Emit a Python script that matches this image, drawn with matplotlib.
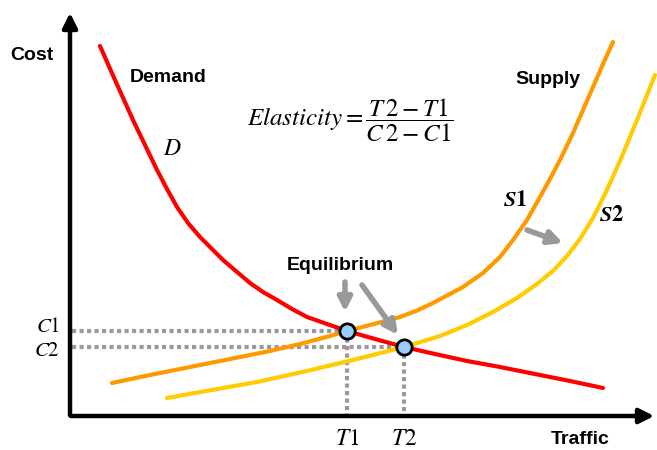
import numpy as np
import matplotlib
matplotlib.use('Agg')
import matplotlib.pyplot as plt

plt.rcParams['mathtext.fontset'] = 'stix'

# curve points (traffic, cost)
dem_t = [30, 45, 63, 75, 87, 97, 107, 118, 130, 142, 153, 167, 180, 193, 207, 222, 237,
         257, 277, 305, 334, 365, 397, 430, 465, 500, 533]
dem_c = [370, 336, 296, 271, 246, 227, 209, 193, 179, 167, 156, 144, 133, 124, 116, 107, 99,
         92, 85, 77, 69, 62, 55, 49, 42, 35, 28]
s1_t = [42, 80, 120, 160, 200, 230, 260, 277, 300, 330, 346, 363, 393, 413, 430, 443, 457,
        470, 480, 491, 503, 513, 523, 533, 543]
s1_c = [33, 41, 49, 57, 65, 72, 80, 85, 91, 99, 105, 113, 129, 143, 159, 176, 196,
        219, 237, 258, 283, 306, 329, 352, 374]
s2_t = [97, 153, 187, 237, 287, 334, 370, 397, 423, 447, 467, 484, 497, 510, 523, 535,
        550, 567, 585]
s2_c = [18, 28, 34, 45, 57, 69, 80, 91, 104, 118, 132, 146, 160, 177, 198, 222,
        255, 296, 341]

# equilibrium points
eq_t = [277, 334]
eq_c = [85, 69]
eq_t_lab = ['$T1$', '$T2$']
eq_c_lab = ['$C1$', '$C2$']

RED, ORANGE, YELLOW, GRAY = '#ff0000', '#ff9900', '#ffcc00', '#999999'
BOLD = dict(family='Liberation Sans', weight='bold', fontsize=14)

fig = plt.figure(figsize=(6.57, 4.5), dpi=100)
ax = fig.add_axes([0, 0, 1, 1])
ax.set_xlim(-70, 587)
ax.set_ylim(-34, 416)
ax.axis('off')

# axes with arrowheads
ax.annotate('', xy=(0, 406), xytext=(0, -2),
            arrowprops=dict(arrowstyle='-|>', lw=3.2, color='black', mutation_scale=22))
ax.annotate('', xy=(587, 0), xytext=(-2, 0),
            arrowprops=dict(arrowstyle='-|>', lw=3.2, color='black', mutation_scale=22))

# dotted guide lines
for t, c in zip(eq_t, eq_c):
    ax.plot([2, t], [c, c], color=GRAY, lw=3, ls=(0, (1, 0.8)), zorder=1)
    ax.plot([t, t], [c, 2], color=GRAY, lw=3, ls=(0, (1, 0.8)), zorder=1)

line_kw = dict(lw=3, solid_capstyle='round', solid_joinstyle='round')
ax.plot(dem_t, dem_c, color=RED, zorder=3, **line_kw)
ax.plot(s1_t, s1_c, color=ORANGE, zorder=2, **line_kw)
ax.plot(s2_t, s2_c, color=YELLOW, zorder=2, **line_kw)
ax.plot(eq_t, eq_c, 'o', ms=11, mfc='#99ccff', mec='black', mew=2, zorder=5)

# gray arrows
arr = dict(arrowstyle='-|>', lw=4, color=GRAY, mutation_scale=20, shrinkA=0, shrinkB=0)
ax.annotate('', xy=(275, 104), xytext=(275, 134), arrowprops=arr)
ax.annotate('', xy=(328, 81), xytext=(292, 131), arrowprops=arr)
ax.annotate('', xy=(493, 173), xytext=(457, 186), arrowprops=arr)

# labels
ax.text(-38, 361, 'Cost', ha='center', va='center', **BOLD)
ax.text(510, -24, 'Traffic', ha='center', va='center', **BOLD)
ax.text(98, 339, 'Demand', ha='center', va='center', **BOLD)
ax.text(478, 336, 'Supply', ha='center', va='center', **BOLD)
ax.text(270, 151, 'Equilibrium', ha='center', va='center', **BOLD)
ax.text(102, 268, '$D$', ha='center', va='center', fontsize=17)
ax.text(445, 216, r'$\boldsymbol{S1}$', ha='center', va='center', fontsize=16)
ax.text(542, 201, r'$\boldsymbol{S2}$', ha='center', va='center', fontsize=16)
ax.text(280, 296, r'$Elasticity=\dfrac{T\,2-T1}{C\,2-C1}$', ha='center', va='center', fontsize=18)

for t, lab in zip(eq_t, eq_t_lab):
    ax.text(t, -22, lab, ha='center', va='center', fontsize=17)
for c, lab, dy in zip(eq_c, eq_c_lab, [5, -3]):
    ax.text(-10, c + dy, lab, ha='right', va='center', fontsize=15)

fig.savefig('out.png', dpi=100)
